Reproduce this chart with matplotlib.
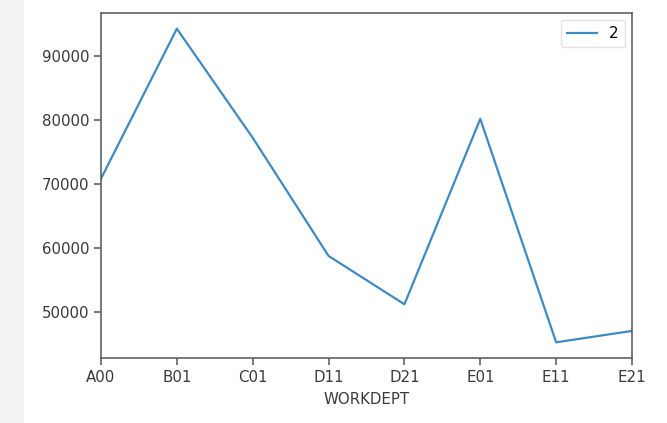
import matplotlib
matplotlib.use("Agg")
import matplotlib.pyplot as plt
import matplotlib.patches as mpatches

departments = ["A00", "B01", "C01", "D11", "D21", "E01", "E11", "E21"]
avg_salary = [70850.0, 94250.0, 77222.5, 58783.63, 51240.0, 80175.0, 45306.66, 47086.25]
series_name = "2"

W, H = 667, 423
fig = plt.figure(figsize=(W / 100, H / 100), dpi=100)
fig.patch.set_facecolor("white")

# gray notebook gutter on the left
fig.add_artist(mpatches.Rectangle((0, 0), 24 / W, 1, transform=fig.transFigure,
                                  facecolor="#f2f2f2", edgecolor="none", zorder=0))

left, right, top, bottom = 101, 632, 13, 358
ax = fig.add_axes([left / W, (H - bottom) / H, (right - left) / W, (bottom - top) / H])

x = list(range(len(departments)))
ax.plot(x, avg_salary, color="#3f8ac2", linewidth=1.6, label=series_name)
ax.set_xlim(0, len(departments) - 1)
ax.margins(y=0.05)
ax.set_xticks(x)
ax.set_xticklabels(departments)
ax.set_yticks([50000, 60000, 70000, 80000, 90000])
ax.set_xlabel("WORKDEPT", fontsize=10.8, color="#3a3a3a", labelpad=5)
ax.tick_params(labelsize=10.8, labelcolor="#3a3a3a", color="#555555", length=5, width=1.1)
for s in ax.spines.values():
    s.set_color("#555555")
    s.set_linewidth(1.1)
leg = ax.legend(loc="upper right", fontsize=10.8, handlelength=2.0)
leg.get_frame().set_edgecolor("#dddddd")
leg.get_frame().set_linewidth(1.0)

fig.savefig("out.png", dpi=100)
